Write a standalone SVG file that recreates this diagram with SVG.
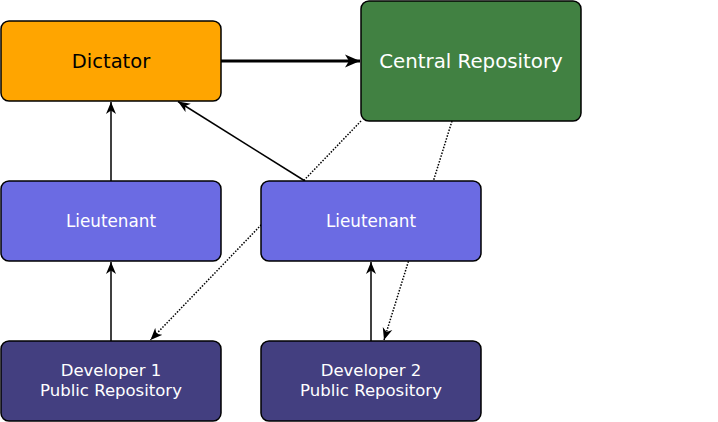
<svg xmlns="http://www.w3.org/2000/svg" width="718" height="422" viewBox="0 0 718 422">
<defs>
<style>
.box{stroke:#000;stroke-width:1.5}
.t{font-family:"DejaVu Sans",sans-serif;text-anchor:middle}
.w{fill:#fff}
.c{fill:none;stroke:#000;stroke-width:1.5}
.thick{stroke-width:3}
.dot{stroke-dasharray:1.5 1.5}
</style>
<marker id="a" markerUnits="userSpaceOnUse" viewBox="0 0 13 11" refX="12" refY="5.5" markerWidth="13" markerHeight="11" orient="auto">
<path d="M0,0.5 L12,5.5 L0,10.5 L3.5,5.5 z" fill="#000"/>
</marker>
<marker id="b" markerUnits="userSpaceOnUse" viewBox="0 0 16 14" refX="15" refY="7" markerWidth="16" markerHeight="14" orient="auto">
<path d="M0,0.5 L15,7 L0,13.5 L4,7 z" fill="#000"/>
</marker>
</defs>
<rect width="718" height="422" fill="#fff"/>
<g id="connectors">
<line class="c dot" x1="361" y1="121" x2="150.5" y2="340" marker-end="url(#a)"/>
<line class="c dot" x1="452" y1="121" x2="384" y2="340" marker-end="url(#a)"/>
<line class="c thick" x1="221" y1="61" x2="360" y2="61" marker-end="url(#b)"/>
<line class="c" x1="111" y1="181" x2="111" y2="102" marker-end="url(#a)"/>
<line class="c" x1="305" y1="181" x2="178" y2="101.5" marker-end="url(#a)"/>
<line class="c" x1="111" y1="341" x2="111" y2="262" marker-end="url(#a)"/>
<line class="c" x1="371" y1="341" x2="371" y2="262" marker-end="url(#a)"/>
</g>
<g id="dictator">
<rect class="box" x="1" y="21" width="220" height="80" rx="8" fill="#FFA500"/>
<text class="t" x="111" y="68" font-size="19.5">Dictator</text>
</g>
<g id="central">
<rect class="box" x="361" y="1" width="220" height="120" rx="8" fill="#418142"/>
<text class="t w" x="471" y="68" font-size="19.8">Central Repository</text>
</g>
<g id="lieutenant1">
<rect class="box" x="1" y="181" width="220" height="80" rx="8" fill="#6B6BE3"/>
<text class="t w" x="111" y="226.5" font-size="16.8">Lieutenant</text>
</g>
<g id="lieutenant2">
<rect class="box" x="261" y="181" width="220" height="80" rx="8" fill="#6B6BE3"/>
<text class="t w" x="371" y="226.5" font-size="16.8">Lieutenant</text>
</g>
<g id="developer1">
<rect class="box" x="1" y="341" width="220" height="80" rx="8" fill="#433F80"/>
<text class="t w" x="111" font-size="16.5"><tspan x="111" y="375.5">Developer 1</tspan><tspan x="111" y="395.5">Public Repository</tspan></text>
</g>
<g id="developer2">
<rect class="box" x="261" y="341" width="220" height="80" rx="8" fill="#433F80"/>
<text class="t w" x="371" font-size="16.5"><tspan x="371" y="375.5">Developer 2</tspan><tspan x="371" y="395.5">Public Repository</tspan></text>
</g>
</svg>
